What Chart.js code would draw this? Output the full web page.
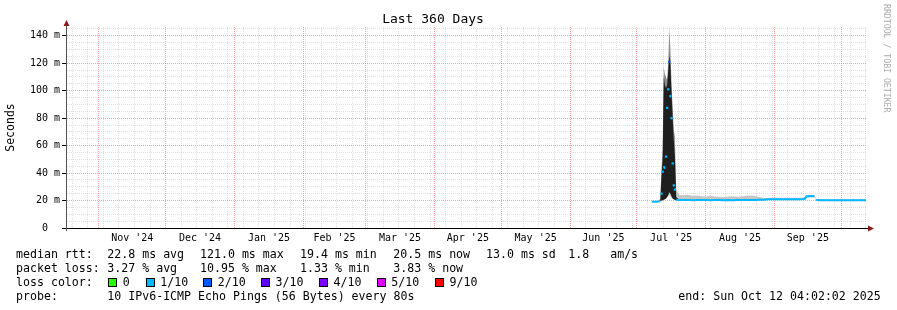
<!DOCTYPE html>
<html>
<head>
<meta charset="utf-8">
<script src="https://cdn.jsdelivr.net/npm/chart.js@4.4.1/dist/chart.umd.min.js"></script>
<style>
html,body{margin:0;padding:0;background:#fff;}
#wrap{position:relative;width:897px;height:310px;overflow:hidden;font-family:'DejaVu Sans Mono',monospace;}
#c{position:absolute;left:0;top:0;}
.t{position:absolute;font-size:11.6px;line-height:14px;white-space:pre;color:#000;}
.sq{position:absolute;width:7px;height:7px;border:1px solid #000;}
#rrd{position:absolute;left:882px;top:4px;writing-mode:vertical-rl;font-size:8.2px;line-height:10px;color:#aaa;white-space:pre;}
</style>
</head>
<body>
<div id="wrap">
<canvas id="c" width="897" height="310"></canvas>
<div id="rrd">RRDTOOL / TOBI OETIKER</div>
</div>
<script>
// ---------- data (x = days since start of the 360-day window) ----------
const dayOffset = [263.6, 264.5, 265.5, 266.5, 267.4,
  268.0, 268.5, 269.0, 269.5, 270.0, 270.5, 271.0, 271.5, 272.0, 272.5, 273.0, 273.5, 274.0, 274.6,
  276, 278, 280, 282, 284, 286, 288, 290, 292, 294, 296, 298, 300, 302, 304, 306, 308, 310, 312, 314,
  315.5, 318, 320, 322, 324, 326, 328, 330,
  332.4, 333.2, 335, 336.8, 337.6,
  340, 342, 344, 346, 348, 350, 352, 354, 356, 358, 360];

const medianRtt = [19.2, 19.2, 19.1, 19.3, 19.6,
  25.0, 41.0, 45.0, 43.0, 52.0, 87.5, 101.0, 121.0, 96.0, 80.0, 47.0, 31.0, 28.0, 20.5,
  20.4, 20.4, 20.4, 20.3, 20.4, 20.4, 20.4, 20.3, 20.4, 20.4, 20.3, 20.4, 20.3, 20.4, 20.4, 20.4, 20.4, 20.4, 20.5, 20.5,
  20.9, 20.9, 20.9, 21.0, 20.9, 21.0, 20.9, 21.0,
  21.1, 23.0, 23.3, 23.1, 20.4,
  20.3, 20.2, 20.3, 20.2, 20.3, 20.2, 20.3, 20.2, 20.3, 20.2, 20.3];

const smokeMin = [18.9, 18.9, 18.8, 19.0, 19.2,
  19.5, 20.0, 20.5, 21.0, 21.0, 22.0, 23.0, 24.0, 23.0, 22.0, 21.0, 20.5, 20.2, 20.0,
  19.9, 19.9, 19.9, 19.8, 19.9, 20.0, 19.9, 19.8, 19.9, 20.0, 19.8, 19.9, 19.8, 19.9, 19.9, 19.9, 19.9, 20.0, 20.0, 20.0,
  20.4, 20.4, 20.4, 20.5, 20.4, 20.5, 20.4, 20.5,
  20.6, 22.3, 22.6, 22.4, 20.0,
  19.8, 19.7, 19.8, 19.7, 19.8, 19.7, 19.8, 19.7, 19.8, 19.7, 19.8];

const smokeMax = [19.6, 19.7, 19.8, 20.0, 21.5,
  44, 58, 117, 112, 110, 108, 120, 146, 130, 104, 88, 72, 66, 28,
  24.0, 23.8, 24.2, 23.5, 23.6, 23.2, 23.0, 23.4, 23.0, 22.8, 22.6, 23.0, 23.2, 22.8, 23.0, 23.4, 23.6, 23.3, 22.6, 21.8,
  21.9, 22.0, 22.1, 22.0, 22.1, 22.0, 22.0, 22.1,
  22.2, 24.0, 24.1, 23.8, 21.2,
  21.0, 20.9, 20.8, 20.9, 20.8, 20.9, 20.8, 20.9, 20.8, 20.9, 20.8];

// dense core of the smoke (only visible during the July spike)
const smokeCoreLo = [19.2, 19.2, 19.1, 19.3, 19.6,
  20.0, 20.3, 20.6, 21.0, 21.5, 22.5, 24.0, 26.0, 25.0, 23.0, 21.5, 21.0, 20.5, 20.3,
  20.4, 20.4, 20.4, 20.3, 20.4, 20.4, 20.4, 20.3, 20.4, 20.4, 20.3, 20.4, 20.3, 20.4, 20.4, 20.4, 20.4, 20.4, 20.5, 20.5,
  20.9, 20.9, 20.9, 21.0, 20.9, 21.0, 20.9, 21.0,
  21.1, 23.0, 23.3, 23.1, 20.4,
  20.3, 20.2, 20.3, 20.2, 20.3, 20.2, 20.3, 20.2, 20.3, 20.2, 20.3];
const smokeCoreHi = [19.2, 19.2, 19.1, 19.3, 19.6,
  38, 50, 110, 104, 102, 104, 114, 126, 118, 98, 80, 64, 52, 22.5,
  20.4, 20.4, 20.4, 20.3, 20.4, 20.4, 20.4, 20.3, 20.4, 20.4, 20.3, 20.4, 20.3, 20.4, 20.4, 20.4, 20.4, 20.4, 20.5, 20.5,
  20.9, 20.9, 20.9, 21.0, 20.9, 21.0, 20.9, 21.0,
  21.1, 23.0, 23.3, 23.1, 20.4,
  20.3, 20.2, 20.3, 20.2, 20.3, 20.2, 20.3, 20.2, 20.3, 20.2, 20.3];

// loss of each median sample, in tenths
const lossTenths = [1, 1, 1, 1, 1,
  1, 1, 1, 1, 1, 1, 1, 2, 1, 1, 1, 1, 1, 1,
  1, 1, 1, 1, 1, 1, 1, 1, 1, 1, 1, 1, 1, 1, 1, 1, 1, 1, 1, 1,
  1, 1, 1, 1, 1, 1, 1, 1,
  1, 1, 1, 1, 1,
  1, 1, 1, 1, 1, 1, 1, 1, 1, 1, 1];

// y ticks
const yMax = 146.4;
const yStep = 5;
const yLabelEvery = 20;

// x axis: month boundaries and labels
const windowStart = '2024-10-17T04:02:02';
const firstSunday = '2024-10-20';
const monthStarts = ['2024-11-01','2024-12-01','2025-01-01','2025-02-01','2025-03-01','2025-04-01',
  '2025-05-01','2025-06-01','2025-07-01','2025-08-01','2025-09-01','2025-10-01'];
const monthLabels = ["Nov '24","Dec '24","Jan '25","Feb '25","Mar '25","Apr '25",
  "May '25","Jun '25","Jul '25","Aug '25","Sep '25"];

// legend
const lossLegendLabels = ['0','1/10','2/10','3/10','4/10','5/10','9/10'];
const lossLegendColors = ['#26ff00','#00b8ff','#0059ff','#5e00ff','#7e00ff','#dd00ff','#ff0000'];
const lossLegendTenths = [0,1,2,3,4,5,9];

// ---------- helpers ----------
const DAY = 86400000;
const t0 = Date.parse(windowStart + 'Z');
const dayOf = s => (Date.parse(s + 'T00:00:00Z') - t0) / DAY;
const monthDays = monthStarts.map(dayOf);
const weekDays = [];
for (let d = dayOf(firstSunday); d <= 360; d += 7) weekDays.push(d);
const labelDays = monthLabels.map((_, i) => (monthDays[i] + monthDays[i + 1]) / 2);

const MAJOR = 'rgba(240,100,100,0.6)';
const MINOR = 'rgba(185,185,185,0.45)';
function lossColor(t) {
  let c = lossLegendColors[0];
  lossLegendTenths.forEach((v, i) => { if (t >= v) c = lossLegendColors[i]; });
  return c;
}
const pts = arr => dayOffset.map((d, i) => ({x: d, y: arr[i]}));
const JUMP = 2.5;

Chart.defaults.font.family = "'DejaVu Sans Mono', monospace";
Chart.defaults.color = '#000';

const axisArrows = {
  id: 'axisArrows',
  afterDraw(chart) {
    const {ctx, chartArea: a} = chart;
    ctx.save();
    ctx.lineWidth = 1;
    ctx.strokeStyle = '#000';
    ctx.beginPath(); ctx.moveTo(a.left - 4, a.bottom + 0.5); ctx.lineTo(a.right + 3, a.bottom + 0.5); ctx.stroke();
    ctx.strokeStyle = '#555';
    ctx.beginPath(); ctx.moveTo(a.left + 0.5, a.top - 3); ctx.lineTo(a.left + 0.5, a.bottom + 3); ctx.stroke();
    ctx.fillStyle = '#8b1a1a';
    ctx.beginPath(); ctx.moveTo(a.left - 2.5, a.top - 1); ctx.lineTo(a.left + 3.5, a.top - 1); ctx.lineTo(a.left + 0.5, a.top - 7); ctx.closePath(); ctx.fill();
    ctx.beginPath(); ctx.moveTo(a.right + 2, a.bottom - 2.5); ctx.lineTo(a.right + 2, a.bottom + 3.5); ctx.lineTo(a.right + 8, a.bottom + 0.5); ctx.closePath(); ctx.fill();
    ctx.restore();
  }
};

const smokeFill = ctx => {
  const chart = ctx.chart;
  if (!chart.chartArea || !chart.scales.y) return '#c6c6c6';
  const ys = chart.scales.y;
  const g = chart.ctx.createLinearGradient(0, ys.getPixelForValue(25), 0, ys.getPixelForValue(32));
  g.addColorStop(0, '#c6c6c6');
  g.addColorStop(1, '#8e8e8e');
  return g;
};

new Chart(document.getElementById('c'), {
  type: 'line',
  data: {
    datasets: [
      {
        label: 'median rtt', data: pts(medianRtt), order: 0, fill: false, tension: 0,
        borderWidth: 2, borderColor: '#00b8ff',
        segment: {
          borderColor: c => Math.abs(c.p0.parsed.y - c.p1.parsed.y) > JUMP ? 'rgba(0,0,0,0)' : lossColor(lossTenths[c.p0DataIndex])
        },
        pointStyle: 'rect', pointBorderWidth: 0,
        pointBackgroundColor: c => lossColor(lossTenths[c.dataIndex]),
        pointRadius: c => {
          const i = c.dataIndex, v = medianRtt;
          const jp = i === 0 || Math.abs(v[i] - v[i - 1]) > JUMP;
          const jn = i === v.length - 1 || Math.abs(v[i + 1] - v[i]) > JUMP;
          return (jp && jn) ? 1.6 : 0;
        }
      },
      { label: 'core hi', data: pts(smokeCoreHi), order: 1, fill: 2, backgroundColor: '#1f1f1f', borderColor: 'rgba(0,0,0,0)', borderWidth: 0, pointRadius: 0, tension: 0 },
      { label: 'core lo', data: pts(smokeCoreLo), order: 1, fill: false, borderColor: 'rgba(0,0,0,0)', borderWidth: 0, pointRadius: 0, tension: 0 },
      { label: 'smoke max', data: pts(smokeMax), order: 2, fill: 4, backgroundColor: smokeFill, borderColor: 'rgba(0,0,0,0)', borderWidth: 0, pointRadius: 0, tension: 0 },
      { label: 'smoke min', data: pts(smokeMin), order: 2, fill: false, borderColor: 'rgba(0,0,0,0)', borderWidth: 0, pointRadius: 0, tension: 0 }
    ]
  },
  options: {
    responsive: false, animation: false, events: [],
    layout: { padding: { left: 0, right: 31, top: 0, bottom: 0 } },
    plugins: {
      legend: { display: false },
      tooltip: { enabled: false },
      title: {
        display: true, text: 'Last 360 Days', color: '#000',
        font: { size: 13, weight: 'normal' }, padding: { top: 11.4, bottom: 0 }
      }
    },
    scales: {
      x: {
        type: 'linear', min: 0, max: 360, position: 'bottom', weight: 0,
        afterBuildTicks: s => {
          s.ticks = weekDays.map(v => ({value: v, major: false}))
            .concat(monthDays.map(v => ({value: v, major: true})))
            .sort((a, b) => a.value - b.value);
        },
        afterFit: s => { s.height = 0; },
        ticks: { display: false, autoSkip: false },
        grid: { color: c => (c.tick && c.tick.major) ? MAJOR : MINOR, lineWidth: 1, drawTicks: false },
        border: { display: true, color: '#000', width: 1, dash: [1, 1] }
      },
      x2: {
        type: 'linear', min: 0, max: 360, position: 'bottom', weight: 1,
        afterBuildTicks: s => { s.ticks = labelDays.map(v => ({value: v})); },
        afterFit: s => { s.height = 82; },
        grid: { display: false, drawTicks: false },
        border: { display: false },
        ticks: {
          autoSkip: false, maxRotation: 0, minRotation: 0, padding: 4, color: '#000',
          font: { size: 10 }, callback: (v, i) => monthLabels[i]
        }
      },
      y: {
        type: 'linear', min: 0, max: yMax,
        afterFit: s => { s.width = 66; },
        ticks: {
          stepSize: yStep, includeBounds: false, autoSkip: false, padding: 2, color: '#000',
          font: { size: 10 },
          callback: v => (v % yLabelEvery === 0) ? (v === 0 ? '0  ' : v + ' m') : ''
        },
        grid: {
          color: c => (c.tick && c.tick.value % yLabelEvery === 0) ? MAJOR : MINOR,
          lineWidth: 1, drawTicks: true, tickLength: 4,
          tickColor: c => (c.tick && c.tick.value % yLabelEvery === 0) ? '#000' : 'rgba(0,0,0,0)'
        },
        border: { display: true, color: '#555', width: 1, dash: [1, 1] },
        title: { display: true, text: 'Seconds', color: '#000', font: { size: 11.5 }, padding: { top: 4, bottom: 0 } }
      }
    }
  },
  plugins: [axisArrows]
});

// ---------- text legend below the plot ----------
const wrap = document.getElementById('wrap');
function txt(s, x, top) {
  const d = document.createElement('div');
  d.className = 't'; d.textContent = s;
  d.style.left = x + 'px'; d.style.top = top + 'px';
  wrap.appendChild(d);
}
const cols = [107.3, 200, 300, 393.3, 486, 568.3];
const rttStats = ['22.8 ms avg', '121.0 ms max', '19.4 ms min', '20.5 ms now', '13.0 ms sd', '1.8   am/s'];
const lossStats = ['3.27 % avg', '10.95 % max', '1.33 % min', '3.83 % now'];
txt('median rtt:', 16, 246.8);
rttStats.forEach((s, i) => txt(s, cols[i], 246.8));
txt('packet loss:', 16, 260.8);
lossStats.forEach((s, i) => txt(s, cols[i], 260.8));
txt('loss color:', 16, 274.8);
const sqX = [108.3, 145.7, 203.3, 261, 319, 376.7, 435];
lossLegendLabels.forEach((l, i) => {
  const q = document.createElement('div');
  q.className = 'sq';
  q.style.left = sqX[i] + 'px'; q.style.top = '278px';
  q.style.background = lossLegendColors[i];
  wrap.appendChild(q);
  txt(l, sqX[i] + 14.5, 274.8);
});
txt('probe:', 16, 288.6);
txt('10 IPv6-ICMP Echo Pings (56 Bytes) every 80s', 107.3, 288.6);
txt('end: Sun Oct 12 04:02:02 2025', 678.3, 288.6);
</script>
</body>
</html>
